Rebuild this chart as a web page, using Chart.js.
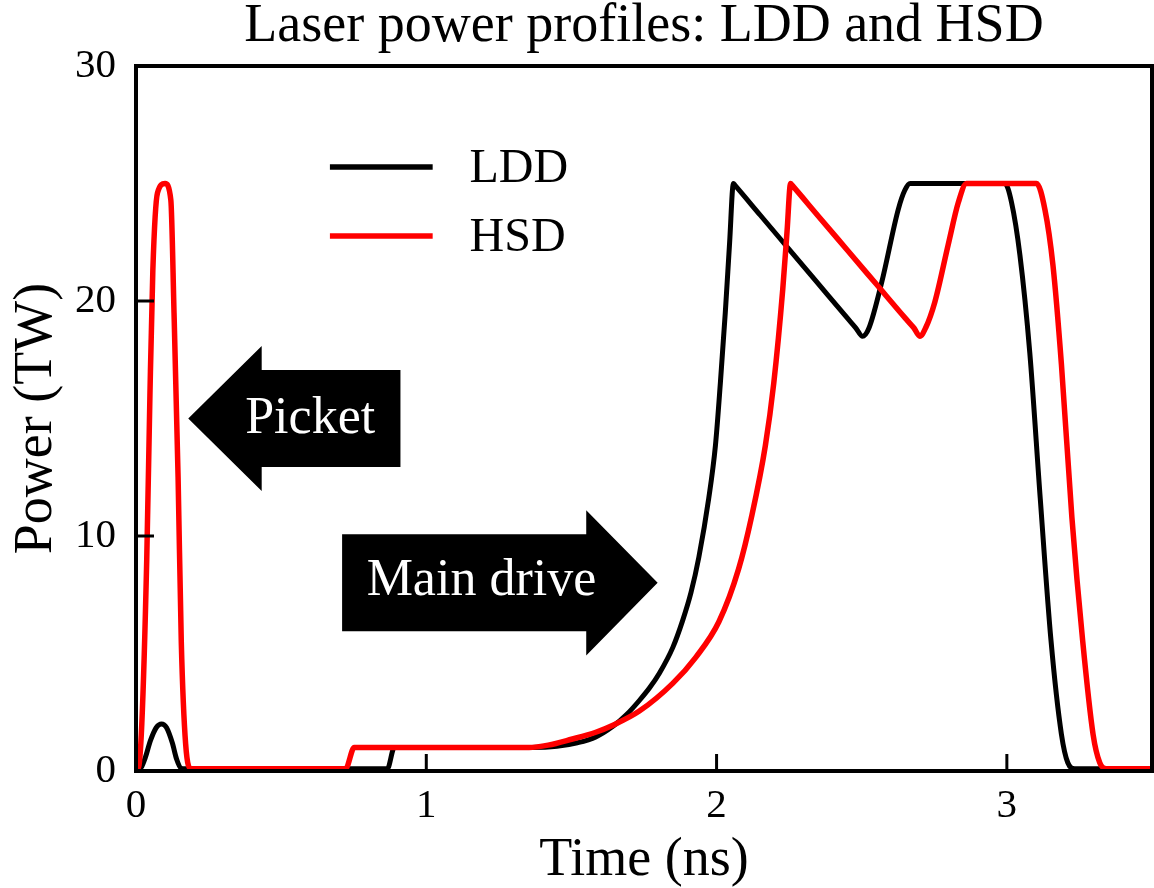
<!DOCTYPE html>
<html>
<head>
<meta charset="utf-8">
<script src="https://cdn.jsdelivr.net/npm/chart.js@4.4.1/dist/chart.umd.min.js"></script>
<style>
  html, body { margin: 0; padding: 0; background: #ffffff; }
  #wrap { width: 1154px; height: 888px; }
</style>
</head>
<body>
<div id="wrap"><canvas id="c" width="1154" height="888"></canvas></div>
<script>
// ---- data ----
const seriesLabels = ['LDD', 'HSD'];
const seriesColors = ['#000000', '#ff0000'];

const lddTime  = [0, 0.013, 0.03, 0.05, 0.07, 0.088, 0.105, 0.125, 0.14, 0.155, 0.165,
                  0.866, 0.89, 1.36, 1.45, 1.52, 1.584, 1.643, 1.69, 1.734, 1.77, 1.803,
                  1.849, 1.883, 1.912, 1.939, 1.973, 1.996, 2.013, 2.03, 2.045, 2.058, 2.063,
                  2.15, 2.25, 2.35, 2.45, 2.48, 2.503, 2.525, 2.569, 2.626, 2.648, 2.667,
                  2.993, 3.016, 3.045, 3.079, 3.115, 3.152, 3.188, 3.21, 3.234, 3.5];
const lddPower = [0.1, 0.1, 0.5, 1.3, 1.85, 2.0, 1.85, 1.2, 0.5, 0.12, 0.1,
                  0.1, 1.0, 1.0, 1.05, 1.2, 1.45, 1.9, 2.4, 3.0, 3.55, 4.16,
                  5.25, 6.4, 7.6, 9.1, 11.6, 13.84, 16.5, 19.5, 22.5, 25.0, 24.93,
                  23.66, 22.2, 20.74, 19.28, 18.85, 18.5, 18.85, 20.8, 23.9, 24.7, 25.0,
                  25.0, 24.2, 21.95, 17.8, 11.6, 5.56, 1.56, 0.35, 0.1, 0.1];

const hsdTime  = [0, 0.007, 0.02, 0.037, 0.048, 0.058, 0.074, 0.1, 0.12, 0.131, 0.145, 0.156, 0.171, 0.19,
                  0.722, 0.752, 1.354, 1.42, 1.5, 1.584, 1.643, 1.734, 1.849, 1.929, 2.008,
                  2.076, 2.122, 2.168, 2.197, 2.228, 2.243, 2.255, 2.26,
                  2.35, 2.45, 2.55, 2.65, 2.68, 2.70, 2.72, 2.752, 2.798, 2.833, 2.861,
                  3.102, 3.131, 3.159, 3.188, 3.224, 3.261, 3.297, 3.32, 3.343, 3.5];
const hsdPower = [0.1, 0.1, 2.0, 9.0, 16.0, 21.3, 24.6, 25.0, 24.3, 19.5, 12.5, 5.5, 1.15, 0.1,
                  0.1, 1.0, 1.0, 1.1, 1.35, 1.65, 1.95, 2.55, 3.73, 4.85, 6.35,
                  8.6, 10.9, 13.84, 16.5, 20.5, 23.0, 25.0, 24.93,
                  23.62, 22.17, 20.72, 19.27, 18.85, 18.5, 18.85, 19.96, 22.4, 24.2, 25.0,
                  25.0, 23.9, 21.5, 17.3, 10.8, 5.56, 1.56, 0.35, 0.1, 0.1];

const xTickValues = [0, 1, 2, 3];
const yTickValues = [0, 10, 20, 30];
const xRange = [0, 3.5];
const yRange = [0, 30];

const titleText = 'Laser power profiles: LDD and HSD';
const xTitle = 'Time (ns)';
const yTitle = 'Power (TW)';

// annotation arrows (in data units)
const arrowLabels = ['Picket', 'Main drive'];
const arrowTipX   = [0.18, 1.797];
const arrowBaseX  = [0.433, 1.551];
const arrowTailX  = [0.911, 0.71];
const arrowCenterY = [15.0, 8.01];
const arrowTextX  = [0.6, 1.19];
const arrowTextY  = [14.4, 7.49];
const arrowBodyHalf = 2.06;
const arrowHeadHalf = 3.09;

// legend placement (in data units)
const legendLineX = [0.668, 1.022];
const legendTextX = 1.149;
const legendRowY  = [25.7, 22.77];

const FONT = '"Liberation Serif", "Times New Roman", serif';

const toPoints = (ts, ps) => ts.map((t, i) => ({ x: t, y: ps[i] }));

const framePlugin = {
  id: 'frameAndTicks',
  afterDatasetsDraw(chart) {
    const { ctx, chartArea: a, scales: { x, y } } = chart;
    ctx.save();
    ctx.strokeStyle = '#000';
    ctx.lineWidth = 3;
    ctx.lineCap = 'butt';
    x.ticks.forEach(tk => {
      const px = x.getPixelForValue(tk.value);
      ctx.beginPath(); ctx.moveTo(px, a.bottom); ctx.lineTo(px, a.bottom - 17); ctx.stroke();
    });
    y.ticks.forEach(tk => {
      const py = y.getPixelForValue(tk.value);
      ctx.beginPath(); ctx.moveTo(a.left, py); ctx.lineTo(a.left + 18, py); ctx.stroke();
    });
    ctx.lineWidth = 4;
    ctx.strokeRect(a.left, a.top, a.right - a.left, a.bottom - a.top);
    ctx.restore();
  }
};

const annotationPlugin = {
  id: 'annotationsAndLegend',
  afterDatasetsDraw(chart) {
    const { ctx, scales: { x, y } } = chart;
    ctx.save();
    arrowLabels.forEach((label, i) => {
      const yc = y.getPixelForValue(arrowCenterY[i]);
      const bh = y.getPixelForValue(arrowCenterY[i] - arrowBodyHalf) - yc;
      const hh = y.getPixelForValue(arrowCenterY[i] - arrowHeadHalf) - yc;
      const tip = x.getPixelForValue(arrowTipX[i]);
      const base = x.getPixelForValue(arrowBaseX[i]);
      const tail = x.getPixelForValue(arrowTailX[i]);
      ctx.beginPath();
      ctx.moveTo(tip, yc);
      ctx.lineTo(base, yc - hh);
      ctx.lineTo(base, yc - bh);
      ctx.lineTo(tail, yc - bh);
      ctx.lineTo(tail, yc + bh);
      ctx.lineTo(base, yc + bh);
      ctx.lineTo(base, yc + hh);
      ctx.closePath();
      ctx.fillStyle = '#000';
      ctx.fill();
      ctx.fillStyle = '#fff';
      ctx.font = '52px ' + FONT;
      ctx.textAlign = 'center';
      ctx.textBaseline = 'alphabetic';
      ctx.fillText(label, x.getPixelForValue(arrowTextX[i]), y.getPixelForValue(arrowTextY[i]));
    });
    // legend
    chart.data.datasets.forEach((ds, i) => {
      const py = y.getPixelForValue(legendRowY[i]);
      ctx.strokeStyle = ds.borderColor;
      ctx.lineWidth = 5.5;
      ctx.beginPath();
      ctx.moveTo(x.getPixelForValue(legendLineX[0]), py);
      ctx.lineTo(x.getPixelForValue(legendLineX[1]), py);
      ctx.stroke();
      ctx.fillStyle = '#000';
      ctx.font = '48px ' + FONT;
      ctx.textAlign = 'left';
      ctx.textBaseline = 'middle';
      ctx.fillText(ds.label, x.getPixelForValue(legendTextX), py + 2);
    });
    ctx.restore();
  }
};

new Chart(document.getElementById('c'), {
  type: 'line',
  data: {
    datasets: [
      { label: seriesLabels[0], data: toPoints(lddTime, lddPower), borderColor: seriesColors[0],
        borderWidth: 5, pointRadius: 0, fill: false, cubicInterpolationMode: 'monotone', order: 1 },
      { label: seriesLabels[1], data: toPoints(hsdTime, hsdPower), borderColor: seriesColors[1],
        borderWidth: 5.5, pointRadius: 0, fill: false, cubicInterpolationMode: 'monotone', order: 0 }
    ]
  },
  options: {
    responsive: false,
    animation: false,
    devicePixelRatio: 1,
    layout: { padding: { left: 0, right: 2, top: 0, bottom: 0 } },
    plugins: {
      legend: { display: false },
      tooltip: { enabled: false },
      title: {
        display: true, text: titleText, color: '#000', fullSize: false,
        font: { family: FONT, size: 54, weight: 'normal', lineHeight: 1.0 },
        padding: { top: 0, bottom: 12 }
      }
    },
    scales: {
      x: {
        type: 'linear', min: xRange[0], max: xRange[1],
        afterBuildTicks: s => { s.ticks = xTickValues.map(v => ({ value: v })); },
        afterFit: s => { s.height = 117; },
        grid: { display: false, drawTicks: false },
        border: { display: false },
        ticks: { color: '#000', padding: 11, maxRotation: 0,
                 font: { family: FONT, size: 41, lineHeight: 1.2 } },
        title: { display: true, text: xTitle, color: '#000',
                 font: { family: FONT, size: 54, lineHeight: 1.0 }, padding: { top: 0, bottom: 0 } }
      },
      y: {
        type: 'linear', min: yRange[0], max: yRange[1],
        afterBuildTicks: s => { s.ticks = yTickValues.map(v => ({ value: v })); },
        afterFit: s => { s.width = 136; },
        grid: { display: false, drawTicks: false },
        border: { display: false },
        ticks: { color: '#000', padding: 20,
                 font: { family: FONT, size: 41, lineHeight: 1.2 } },
        title: { display: true, text: yTitle, color: '#000',
                 font: { family: FONT, size: 54, lineHeight: 1.0 }, padding: { top: 10, bottom: 0 } }
      }
    }
  },
  plugins: [annotationPlugin, framePlugin]
});
</script>
</body>
</html>
